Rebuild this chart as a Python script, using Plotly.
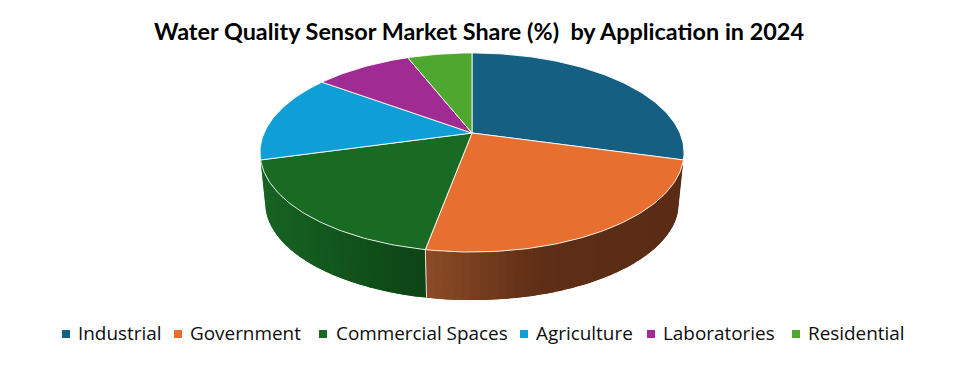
import math
import plotly.graph_objects as go

categories = ["Industrial", "Government", "Commercial Spaces", "Agriculture", "Laboratories", "Residential"]
shares = [29.3, 23.6, 17.8, 14.4, 8.95, 5.95]
colors = ["#156082", "#E77031", "#196B24", "#0F9ED5", "#A02B93", "#4EA72E"]
title_text = "Water Quality Sensor Market Share (%)\u00a0 by Application in 2024"

# side-wall shading stops per slice: (screen x, colour)
side_stops = {
    1: [(427, (140, 75, 38)), (470, (122, 64, 32)), (540, (94, 46, 22)), (690, (90, 44, 21))],
    2: [(258, (23, 100, 35)), (340, (17, 85, 28)), (400, (14, 72, 23)), (428, (13, 68, 22))],
}

# pie geometry in pixels (perspective projection of a disc)
CX, CY = 472, 133
A, B, K = 95.7, 207.9, 0.196
S, CY2 = 0.975, 184
W, H = 956, 366


def rim(t, scale=1.0, cy=CY):
    u, v = math.sin(t), math.cos(t)
    d = 1 + K * v
    return CX + scale * B * u / d, cy - scale * A * v / d


def shade(i, x):
    stops = side_stops[i]
    if x <= stops[0][0]:
        c = stops[0][1]
    elif x >= stops[-1][0]:
        c = stops[-1][1]
    else:
        for (x0, c0), (x1, c1) in zip(stops, stops[1:]):
            if x0 <= x <= x1:
                f = (x - x0) / (x1 - x0)
                c = tuple(a + (b - a) * f for a, b in zip(c0, c1))
                break
    return "rgb(%d,%d,%d)" % tuple(round(a) for a in c)


total = sum(shares)
edges = [0.0]
for s in shares:
    edges.append(edges[-1] + s / total * 2 * math.pi)

fig = go.Figure()

# side wall strips (front-facing part only); each strip overlaps the next one
sil = math.radians(100)
for i in range(len(shares)):
    a0, a1 = max(edges[i], sil), min(edges[i + 1], 2 * math.pi - sil)
    if a1 <= a0 or i not in side_stops:
        continue
    n = max(2, int((a1 - a0) / math.radians(2.0)))
    step = (a1 - a0) / n
    for j in range(n):
        t0 = a0 + step * j
        t1 = min(a1, t0 + step * 2)
        ts = [t0 + (t1 - t0) * k / 4 for k in range(5)]
        top = [rim(t) for t in ts]
        bot = [rim(t, S, CY2) for t in reversed(ts)]
        poly = top + bot + top[:1]
        col = shade(i, rim(t0 + step / 2)[0])
        fig.add_trace(go.Scatter(
            x=[p[0] for p in poly], y=[p[1] for p in poly],
            mode="none", fill="toself", fillcolor=col,
            hoverinfo="skip", showlegend=False,
        ))

# boundary between Government and Commercial on the wall
t = edges[2]
p, q = rim(t), rim(t, S, CY2)
fig.add_trace(go.Scatter(x=[p[0], q[0]], y=[p[1], q[1]], mode="lines",
                         line=dict(color="rgba(255,255,255,0.85)", width=1),
                         hoverinfo="skip", showlegend=False))

# top faces
for i, cat in enumerate(categories):
    n = max(2, int((edges[i + 1] - edges[i]) / math.radians(1.0)))
    pts = [rim(edges[i] + (edges[i + 1] - edges[i]) * j / n) for j in range(n + 1)]
    xs = [CX] + [p[0] for p in pts] + [CX]
    ys = [CY] + [p[1] for p in pts] + [CY]
    fig.add_trace(go.Scatter(
        x=xs, y=ys, mode="lines", fill="toself", fillcolor=colors[i],
        line=dict(color="rgba(255,255,255,0.85)", width=1),
        name=cat, text=[f"{cat}: {shares[i]}%"] * len(xs), hoverinfo="text", showlegend=False,
    ))

# legend
square_x = [66, 178, 323, 524, 651, 796]
label_x = [75.5, 187.5, 333.5, 533.5, 660.5, 805.5]
fig.add_trace(go.Scatter(x=square_x, y=[334] * 6, mode="markers",
                         marker=dict(symbol="square", size=8, color=colors, line=dict(width=0)),
                         hoverinfo="skip", showlegend=False))
annotations = [dict(x=lx, y=333, xref="x", yref="y", text=c, showarrow=False, xanchor="left",
                    yanchor="middle",
                    font=dict(family="Open Sans", size=18.9, color="#0d0d0d"))
               for lx, c in zip(label_x, categories)]

fig.update_layout(
    width=W, height=H, margin=dict(l=0, r=0, t=0, b=0),
    paper_bgcolor="white", plot_bgcolor="white", showlegend=False,
    xaxis=dict(range=[0, W], visible=False, fixedrange=True),
    yaxis=dict(range=[H, 0], visible=False, fixedrange=True),
    title=dict(text=title_text, x=479 / W, xanchor="center", y=1 - 32 / H, yanchor="middle",
               font=dict(family="Lato", size=23.4, color="#000000", weight="bold")),
    annotations=annotations,
)
fig.write_html("out.html", config={"displayModeBar": False},
               post_script="document.body.style.margin='0';")
